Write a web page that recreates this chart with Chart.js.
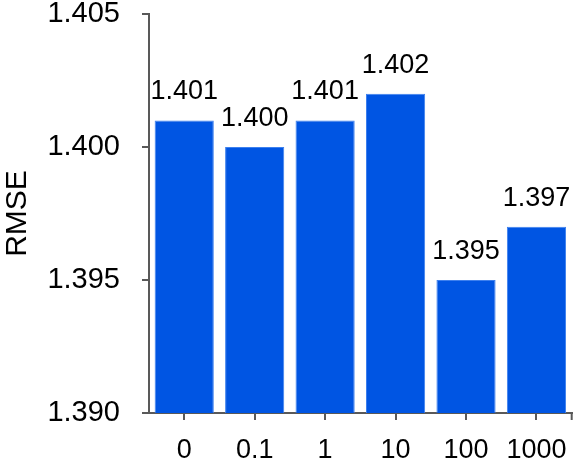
<!DOCTYPE html>
<html>
<head>
<meta charset="utf-8">
<script src="https://cdn.jsdelivr.net/npm/chart.js@4/dist/chart.umd.min.js"></script>
<style>
  html, body { margin: 0; padding: 0; background: #fff; }
  #wrap { width: 581px; height: 466px; }
</style>
</head>
<body>
<div id="wrap"><canvas id="rmseChart" width="581" height="466"></canvas></div>
<script>
// chart data
const categories = ['0', '0.1', '1', '10', '100', '1000'];
const rmseValues = [1.401, 1.400, 1.401, 1.402, 1.395, 1.397];
const yTicks = [1.390, 1.395, 1.400, 1.405];

const FONT = 'Liberation Sans, Arial, sans-serif';
const AXIS = '#595959';

// value labels above each bar
const barLabels = {
  id: 'barLabels',
  afterDatasetsDraw(chart) {
    const ctx = chart.ctx;
    const meta = chart.getDatasetMeta(0);
    ctx.save();
    ctx.font = '27px ' + FONT;
    ctx.fillStyle = '#000';
    ctx.textAlign = 'center';
    ctx.textBaseline = 'alphabetic';
    meta.data.forEach((bar, i) => {
      ctx.fillText(rmseValues[i].toFixed(3), bar.x, bar.y - 21);
    });
    ctx.restore();
  }
};

// closing tick at the right end of the x axis
const axisEnd = {
  id: 'axisEnd',
  afterDraw(chart) {
    const { ctx, chartArea } = chart;
    ctx.save();
    ctx.strokeStyle = AXIS;
    ctx.lineWidth = 2;
    ctx.beginPath();
    ctx.moveTo(chartArea.right, chartArea.bottom);
    ctx.lineTo(chartArea.right, chartArea.bottom + 7);
    ctx.stroke();
    ctx.restore();
  }
};

new Chart(document.getElementById('rmseChart'), {
  type: 'bar',
  data: {
    labels: categories,
    datasets: [{
      data: rmseValues,
      backgroundColor: '#0055E3',
      borderColor: '#3D80EE',
      borderWidth: 1,
      categoryPercentage: 1,
      barPercentage: 0.84
    }]
  },
  options: {
    responsive: false,
    animation: false,
    layout: { padding: { top: 0, right: 6, left: 0, bottom: 0 } },
    plugins: { legend: { display: false }, tooltip: { enabled: false } },
    scales: {
      x: {
        afterFit: scale => { scale.height = 53; },
        grid: { offset: false, drawOnChartArea: false, tickLength: 7, color: AXIS, lineWidth: 2 },
        border: { color: AXIS, width: 2 },
        ticks: { color: '#000', font: { family: FONT, size: 27 }, padding: 14, maxRotation: 0 }
      },
      y: {
        min: 1.390,
        max: 1.405,
        afterBuildTicks: scale => { scale.ticks = yTicks.map(v => ({ value: v })); },
        // keep the top of the axis close to the canvas edge
        afterFit: scale => { scale.paddingTop = 14; scale.width = 149; },
        grid: { drawOnChartArea: false, tickLength: 7, color: AXIS, lineWidth: 2 },
        border: { color: AXIS, width: 2 },
        ticks: {
          color: '#000',
          font: { family: FONT, size: 29 },
          padding: 22,
          callback: v => Number(v).toFixed(3)
        },
        title: {
          display: true,
          text: 'RMSE',
          color: '#000',
          font: { family: FONT, size: 30 },
          padding: { top: 0, bottom: 8 }
        }
      }
    }
  },
  plugins: [barLabels, axisEnd]
});
</script>
</body>
</html>
